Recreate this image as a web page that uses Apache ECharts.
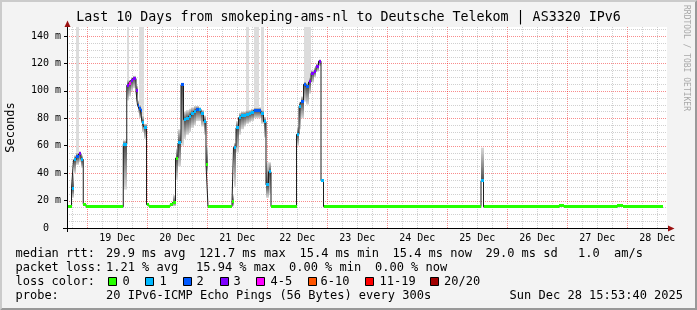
<!DOCTYPE html>
<html>
<head>
<meta charset="utf-8">
<script src="https://cdn.jsdelivr.net/npm/echarts@6.0.0/dist/echarts.min.js"></script>
<style>
html,body{margin:0;padding:0;background:#f3f3f3;overflow:hidden;}
#chart{width:697px;height:310px;}
</style>
</head>
<body>
<div id="chart"></div>
<script>
// ---- time frame: hours since 18 Dec 2025 00:00 ----
const T_START = 15 + 53 / 60 + 40 / 3600;   // Thu Dec 18 15:53:40
const T_END = T_START + 240;                // Sun Dec 28 15:53:40
const DATA_END = 254.3;                     // last consolidated sample
const Y_MAX = 146.6;                        // ms

// ---- median RTT steps (start hour of each step) ----
const binStart = [15.9, 17.7, 18.5, 19.5, 20.5, 21.5, 22.4, 23.5,
  38.4, 39.8, 40.5, 41.3, 42.1, 43.5, 44.1, 44.7, 45.3, 45.9, 46.7, 47.7, 48.7,
  57.1, 58.1, 59.3, 60.3, 61.5, 62.5, 63.5, 64.5, 65.5, 66.5, 67.5, 68.5, 69.5, 70.5, 71.5, 72.3,
  81.9, 82.5, 83.5, 84.5, 85.5, 86.5, 87.5, 88.5, 89.5, 90.5, 91.5, 92.5, 93.5, 94.5, 95.5, 96.5, 97.5,
  107.7, 108.7, 109.5, 110.5, 111.5, 112.5, 113.5, 114.5, 115.5, 116.5, 117.5, 118.5,
  181.5, 182.5, 212.7, 214.7, 235.9, 238.3];
const median = [15.5, 29, 49.6, 52, 54, 50, 17.3, 15.5,
  61, 104, 105.5, 107.5, 109, 100, 89.5, 87, 85.5, 77, 73.5, 17, 15.5,
  17, 18.7, 51, 62, 104.5, 79, 80, 81.5, 83.5, 85, 86.5, 86.5, 83.5, 78, 46.5, 15.5,
  19, 58.8, 73, 80.5, 82, 82.4, 83, 83.6, 84, 85.6, 85.6, 85.6, 83.6, 77.5, 31.4, 41, 15.6,
  68.3, 88.5, 92, 104.8, 103, 106.5, 112.8, 114, 118, 121.7, 34.5, 15.6,
  34.5, 15.4, 16.2, 15.4, 16.2, 15.4];
// loss class index (0:"0", 1:"1", 2:"2", 3:"3", 4:"4-5", ...)
const loss = [0, 1, 1, 2, 3, 1, 0, 0,
  1, 3, 4, 3, 3, 3, 2, 2, 2, 1, 1, 0, 0,
  0, 0, 0, 1, 2, 1, 1, 1, 1, 1, 2, 1, 1, 1, 0, 0,
  0, 1, 1, 1, 1, 1, 1, 1, 1, 2, 2, 2, 1, 1, 1, 1, 0,
  1, 1, 2, 2, 2, 3, 3, 3, 3, 3, 1, 0,
  1, 0, 0, 0, 0, 0];
// smoke (spread of the 20 pings) low / high, and highest ping
const smokeLo = [null, 22, 40, 46, 48, 44, null, null,
  28, 93, 96, 100, 102, 92, 84, 80, 78, 70, 65, null, null,
  null, 16, 35, 45, 60, 65, 68, 70, 73, 75, 78, 78, 74, 68, 40, null,
  16, 30, 55, 68, 72, 74, 76, 77, 78, 80, 80, 80, 76, 66, 22, 25, null,
  60, 72, 80, 92, 90, 98, 106, 110, 114, 118, null, null,
  34.5, null, null, null, null, null];
const smokeHi = [null, 40, 53, 55, 56, 53, null, null,
  64, 108, 108, 110, 111, 104, 93, 90, 88, 82, 76, null, null,
  null, 24, 58, 72, 106, 85, 86, 87, 88, 89, 89, 88, 86, 82, 60, null,
  24, 62, 78, 84, 85, 85, 86, 86, 87, 88, 88, 88, 86, 81, 48, 48, null,
  74, 92, 96, 107, 106, 110, 115, 117, 120, 123, null, null,
  58.6, null, null, null, null, null];
const pingMax = [null, null, null, 200, null, null, null, null,
  null, 200, null, null, null, null, null, 200, 200, 200, null, null, null,
  null, null, null, null, null, null, null, null, null, null, null, null, null, null, null, null,
  null, null, null, null, null, null, 200, null, null, 200, 200, null, 200, null, null, null, null,
  null, null, null, 200, 200, 200, null, null, null, null, null, null,
  null, null, null, null, null, null];

// ---- axis ticks / labels ----
const xTickHours = [36, 60, 84, 108, 132, 156, 180, 204, 228, 252];
const xTickLabels = ['19 Dec', '20 Dec', '21 Dec', '22 Dec', '23 Dec', '24 Dec', '25 Dec', '26 Dec', '27 Dec', '28 Dec'];
const yTickValues = [0, 20, 40, 60, 80, 100, 120, 140];
const yTickLabels = ['0  ', '20 m', '40 m', '60 m', '80 m', '100 m', '120 m', '140 m'];

// ---- legend texts ----
const lossColors = ['#26ff00', '#00b8ff', '#0059ff', '#7e00ff', '#ff00ff', '#ff5500', '#ff0000', '#a10000'];
const lossLabels = ['0', '1', '2', '3', '4-5', '6-10', '11-19', '20/20'];
const rttStats = ['29.9 ms avg', '121.7 ms max', '15.4 ms min', '15.4 ms now', '29.0 ms sd', '1.0', 'am/s'];
const lossStats = ['1.21 % avg', '15.94 % max', '0.00 % min', '0.00 % now'];
const probeText = '20 IPv6-ICMP Echo Pings (56 Bytes) every 300s';
const dateText = 'Sun Dec 28 15:53:40 2025';
const titleText = 'Last 10 Days from smokeping-ams-nl to Deutsche Telekom | AS3320 IPv6';

// =================== build ===================
const FONT = '"DejaVu Sans Mono", "Liberation Mono", monospace';
const chart = echarts.init(document.getElementById('chart'), null, { renderer: 'canvas', width: 697, height: 310 });

const n = median.length;
const bins = median.map((m, i) => [
  binStart[i], i + 1 < n ? binStart[i + 1] : DATA_END, m, loss[i],
  smokeLo[i] ?? -1, smokeHi[i] ?? -1, pingMax[i] ?? -1
]);
const lineData = median.map((m, i) => [binStart[i], m]);
lineData.push([DATA_END, median[n - 1]]);

// grid lines (rrdtool style)
const gridData = [];
for (let h = Math.ceil(T_START / 6) * 6; h < T_END; h += 6) gridData.push([h, 0, h % 24 === 0 ? 1 : 0]);
for (let v = 5; v < Y_MAX; v += 5) gridData.push([T_START, v, v % 20 === 0 ? 3 : 2]);

function renderGrid(params, api) {
  const kind = api.value(2);
  const cs = params.coordSys;
  const major = kind === 1 || kind === 3;
  const color = major ? 'rgba(240,0,0,0.45)' : 'rgba(143,143,143,0.42)';
  let shape;
  if (kind < 2) {
    const x = Math.round(api.coord([api.value(0), 0])[0]) + 0.5;
    shape = { x1: x, y1: cs.y, x2: x, y2: cs.y + cs.height };
  } else {
    const y = Math.round(api.coord([T_START, api.value(1)])[1]) + 0.5;
    shape = { x1: cs.x, y1: y, x2: cs.x + cs.width, y2: y };
  }
  return { type: 'line', shape, style: { stroke: color, lineWidth: 1, lineDash: [1, 1] } };
}

function renderSmoke(params, api) {
  const t0 = api.value(0), t1 = api.value(1), m = api.value(2);
  const lo = api.value(4), hi = api.value(5), mx = api.value(6);
  const x0 = Math.round(api.coord([t0, 0])[0]);
  const x1 = Math.round(api.coord([t1, 0])[0]);
  const Y = v => api.coord([t0, Math.min(v, Y_MAX)])[1];
  const children = [];
  if (mx >= 0) {
    const top = Y(mx), bot = Y(hi >= 0 ? hi : m);
    children.push({ type: 'rect', shape: { x: x0, y: top, width: x1 - x0, height: bot - top }, style: { fill: '#dcdcdc' } });
  }
  if (lo >= 0 && hi > lo) {
    const top = Y(hi), bot = Y(lo);
    const pos = Math.max(0, Math.min(1, (hi - m) / (hi - lo)));
    children.push({
      type: 'rect', shape: { x: x0, y: top, width: x1 - x0, height: bot - top },
      style: { fill: new echarts.graphic.LinearGradient(0, 0, 0, 1, [
        { offset: 0, color: '#dadada' }, { offset: pos, color: '#4d4d4d' }, { offset: 1, color: '#dadada' }]) }
    });
  }
  return { type: 'group', children };
}

function renderBand(params, api) {
  const t0 = api.value(0), t1 = api.value(1), m = api.value(2), l = api.value(3);
  const x0 = Math.round(api.coord([t0, m])[0]);
  const x1 = Math.round(api.coord([t1, m])[0]);
  const yc = api.coord([t0, m])[1];
  return { type: 'rect', shape: { x: x0, y: Math.round(yc - 1.5), width: x1 - x0, height: 3 }, style: { fill: lossColors[l] } };
}

// ---- graphic decorations / legend ----
const txt = (x, y, text, extra) => Object.assign({
  type: 'text', x, y, z: 100, silent: true,
  style: Object.assign({ text, fill: '#000', font: '12px ' + FONT, align: 'left', verticalAlign: 'middle' }, (extra && extra.style) || {})
}, extra && extra.rotation !== undefined ? { rotation: extra.rotation } : {});

const graphics = [];
graphics.push({ type: 'polygon', z: 100, silent: true, shape: { points: [[0, 0], [697, 0], [695, 2], [2, 2], [2, 308], [0, 310]] }, style: { fill: '#cbcbcb' } });
graphics.push({ type: 'polygon', z: 100, silent: true, shape: { points: [[697, 0], [697, 310], [0, 310], [2, 308], [695, 308], [695, 2]] }, style: { fill: '#999999' } });
graphics.push(txt(348.5, 18, titleText, { style: { font: '13.3px ' + FONT, align: 'center' } }));
graphics.push(txt(11, 127.5, 'Seconds', { rotation: Math.PI / 2, style: { align: 'center' } }));
graphics.push(txt(686, 5, 'RRDTOOL / TOBI OETIKER', { rotation: -Math.PI / 2, style: { font: '8px ' + FONT, fill: '#a8a8a8' } }));
// axis extensions & arrows
graphics.push({ type: 'line', z: 90, silent: true, shape: { x1: 63, y1: 228.5, x2: 668, y2: 228.5 }, style: { stroke: '#000', lineWidth: 1 } });
graphics.push({ type: 'line', z: 90, silent: true, shape: { x1: 67.5, y1: 232, x2: 67.5, y2: 24 }, style: { stroke: '#000', lineWidth: 1 } });
graphics.push({ type: 'polygon', z: 91, silent: true, shape: { points: [[668, 225.5], [674.5, 228.5], [668, 231.5]] }, style: { fill: '#9a1010' } });
graphics.push({ type: 'polygon', z: 91, silent: true, shape: { points: [[64.5, 27], [67.5, 20.5], [70.5, 27]] }, style: { fill: '#9a1010' } });

// legend rows
const rowY = [254, 268, 282, 296];
graphics.push(txt(15.5, rowY[0], 'median rtt:'));
const rttX = [106, 199, 299.5, 392.5, 485.5, 578, 614];
rttStats.forEach((s, i) => graphics.push(txt(rttX[i], rowY[0], s)));
graphics.push(txt(15.5, rowY[1], 'packet loss:'));
const lossX = [106, 196, 289, 375];
lossStats.forEach((s, i) => graphics.push(txt(lossX[i], rowY[1], s)));
graphics.push(txt(15.5, rowY[2], 'loss color:'));
const boxX = [108, 145, 182.5, 219.5, 256, 307.5, 365, 430];
const boxLabelX = [122.5, 159.5, 196.5, 233.5, 270.5, 320.5, 379.5, 444];
lossLabels.forEach((s, i) => {
  graphics.push({ type: 'rect', z: 100, silent: true, shape: { x: Math.round(boxX[i]) + 0.5, y: 277.5, width: 8, height: 8 }, style: { fill: lossColors[i], stroke: '#000', lineWidth: 1 } });
  graphics.push(txt(boxLabelX[i], rowY[2], s));
});
graphics.push(txt(15.5, rowY[3], 'probe:'));
graphics.push(txt(106, rowY[3], probeText));
graphics.push(txt(683, rowY[3], dateText, { style: { align: 'right' } }));

const option = {
  animation: false,
  backgroundColor: '#f3f3f3',
  grid: { left: 67, top: 27, width: 600, height: 201, containLabel: false, outerBoundsMode: 'none',
          show: true, backgroundColor: '#ffffff', borderWidth: 0 },
  xAxis: {
    type: 'value', min: T_START, max: T_END,
    axisLine: { show: true, onZero: false, lineStyle: { color: '#000', width: 1 } },
    axisTick: { show: false },
    splitLine: { show: false },
    axisLabel: {
      customValues: xTickHours,
      formatter: v => { const i = xTickHours.indexOf(v); return i >= 0 ? xTickLabels[i] : ''; },
      color: '#000', fontFamily: FONT, fontSize: 10, margin: 5
    }
  },
  yAxis: {
    type: 'value', min: 0, max: Y_MAX, interval: 20,
    axisLine: { show: true, lineStyle: { color: '#000', width: 1 } },
    axisTick: { show: true, customValues: yTickValues, length: 3, lineStyle: { color: '#000' } },
    splitLine: { show: false },
    axisLabel: {
      customValues: yTickValues,
      formatter: v => { const i = yTickValues.indexOf(v); return i >= 0 ? yTickLabels[i] : ''; },
      color: '#000', fontFamily: FONT, fontSize: 10, margin: 6
    }
  },
  series: [
    { type: 'custom', name: 'grid', z: 1, silent: true, renderItem: renderGrid, data: gridData, encode: { x: 0, y: 1 } },
    { type: 'custom', name: 'smoke', z: 2, silent: true, clip: true, renderItem: renderSmoke, data: bins, encode: { x: [0, 1], y: [2] } },
    { type: 'line', name: 'median', z: 3, silent: true, step: 'end', data: lineData, showSymbol: false, symbol: 'none',
      lineStyle: { color: '#1e1e1e', width: 1 } },
    { type: 'custom', name: 'loss', z: 4, silent: true, clip: true, renderItem: renderBand, data: bins, encode: { x: [0, 1], y: [2] } }
  ],
  graphic: { elements: graphics }
};
chart.setOption(option);
</script>
</body>
</html>
